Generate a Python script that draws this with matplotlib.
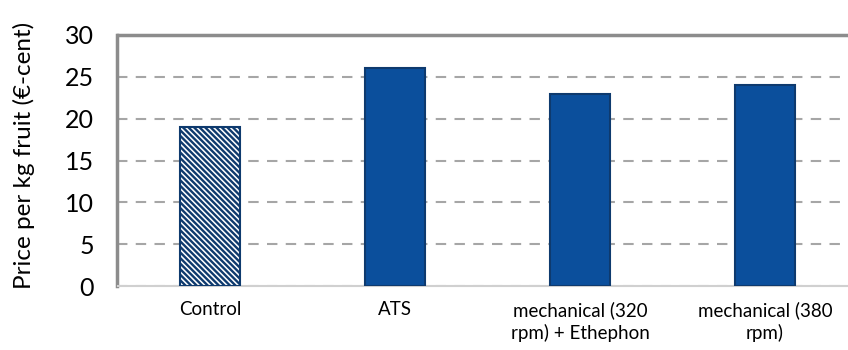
import matplotlib.pyplot as plt
import matplotlib as mpl

categories = ['Control', 'ATS', 'mechanical (320\nrpm) + Ethephon', 'mechanical (380\nrpm)']
prices = [19, 26, 23, 24]
hatched = [True, False, False, False]
yticks = [0, 5, 10, 15, 20, 25, 30]

fill = '#0B4F9C'
edge = '#0E3A6E'

plt.rcParams['font.family'] = ['Lato', 'DejaVu Sans']
mpl.rcParams['hatch.linewidth'] = 1.7
mpl.rcParams['hatch.color'] = fill

fig = plt.figure(figsize=(8.48, 3.5), dpi=100)
ax = fig.add_axes([117.5 / 848, 1 - 286 / 350, (848 - 117.5) / 848, (286 - 35) / 350])

x = range(len(categories))
for i, (v, h) in enumerate(zip(prices, hatched)):
    if h:
        ax.bar(i, v, width=0.32, facecolor='white', edgecolor=edge, linewidth=1.5,
               hatch='\\' * 6, zorder=3)
    else:
        ax.bar(i, v, width=0.32, color=fill, edgecolor=edge, linewidth=1.5, zorder=3)

ax.set_xlim(-0.5, (848 - 117.5) / 185 - 0.5)
ax.set_ylim(0, 30)
ax.set_yticks(yticks)
ax.set_yticklabels([str(t) for t in yticks], fontsize=18)
ax.set_xticks(list(x))
ax.set_xticklabels(categories, fontsize=13.5, linespacing=1.3)
ax.tick_params(axis='both', length=0)
ax.tick_params(axis='x', pad=11)
ax.tick_params(axis='y', pad=17)

ax.yaxis.grid(True, color='#A6A6A6', linestyle=(0, (5, 4)), linewidth=1.5, zorder=0)
for t in ax.yaxis.get_gridlines()[-1:]:
    t.set_visible(False)

for s in ['left', 'top']:
    ax.spines[s].set_color('#8C8C8C')
    ax.spines[s].set_linewidth(2.5)
ax.spines['right'].set_visible(False)
ax.spines['bottom'].set_color('#D0D0D0')
ax.spines['bottom'].set_linewidth(1.5)

ax.set_ylabel('Price per kg fruit (€-cent)', fontsize=17.5)
ax.yaxis.set_label_coords(-0.113, 0.52)

fig.savefig('out.png', dpi=100)
